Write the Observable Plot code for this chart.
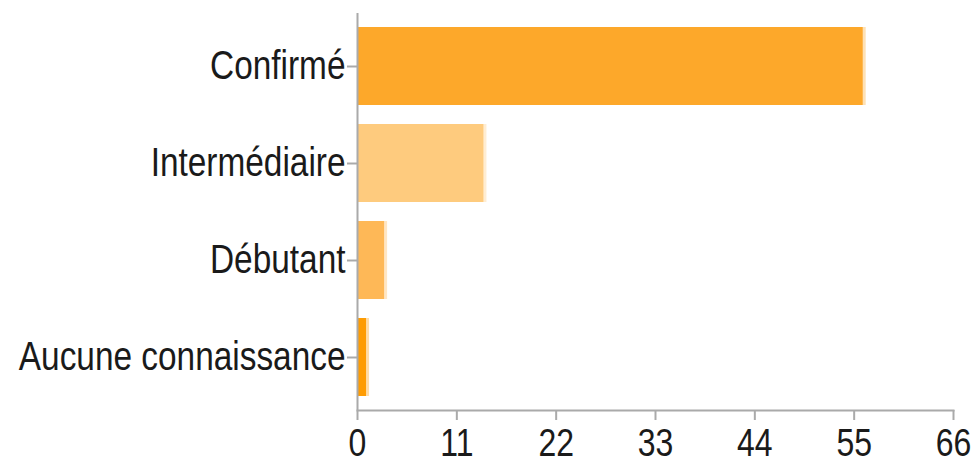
<!DOCTYPE html>
<html>
<head>
<meta charset="utf-8">
<script src="https://cdn.jsdelivr.net/npm/d3@7"></script>
<script src="https://cdn.jsdelivr.net/npm/@observablehq/plot@0.6"></script>
<style>
  html, body { margin: 0; padding: 0; background: #fff; }
</style>
</head>
<body>
<div id="chart"></div>
<script>
const categories = ["Confirmé", "Intermédiaire", "Débutant", "Aucune connaissance"];
const values = [56, 14, 3, 1];
const colors = ["#fda82a", "#fecb7e", "#feb857", "#fe9c03"];
const xTicks = [0, 11, 22, 33, 44, 55, 66];

const data = categories.map((c, i) => ({category: c, value: values[i], color: colors[i]}));

const chart = Plot.plot({
  width: 976,
  height: 460,
  marginLeft: 357,
  marginRight: 23,
  marginTop: 13,
  marginBottom: 50,
  style: {fontFamily: "'Liberation Sans', Arial, sans-serif", background: "#fff"},
  x: {domain: [0, 66]},
  y: {domain: categories, paddingInner: 0.2, paddingOuter: 0.135},
  marks: [
    Plot.barX(data, {x: "value", y: "category", fill: "color", fillOpacity: 0.35, insetRight: -3}),
    Plot.barX(data, {x: "value", y: "category", fill: "color"}),
    Plot.frame({anchor: "bottom", stroke: "#aaa", strokeWidth: 2}),
    Plot.ruleX([0], {stroke: "#aaa", strokeWidth: 2}),
    Plot.axisX({ticks: xTicks, tickFormat: d => String(d), tickSize: 10, tickPadding: 8,
      stroke: "#aaa", strokeWidth: 2, fill: "#1a1a1a", fontSize: 32, label: null}),
    Plot.axisY({tickSize: 10, tickPadding: 2, stroke: "#aaa", strokeWidth: 2,
      fill: "#1a1a1a", fontSize: 33.4, label: null})
  ]
});
// stretch texts vertically like the reference
chart.querySelectorAll("text").forEach(t => {
  const tr = t.getAttribute("transform") || "";
  t.setAttribute("transform", `${tr} scale(1,1.2)`);
});
document.getElementById("chart").appendChild(chart);
</script>
</body>
</html>
